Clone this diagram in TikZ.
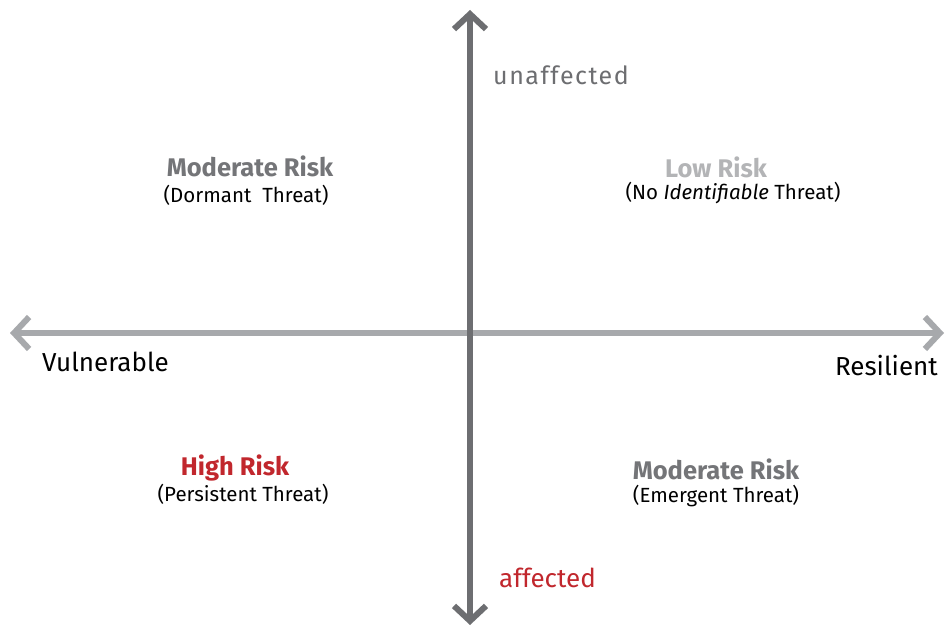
\documentclass[tikz,border=0pt]{standalone}
\usepackage{fontspec}
\setmainfont{Fira Sans}
\usetikzlibrary{arrows.meta}
\definecolor{axdark}{HTML}{6D6E71}
\definecolor{axlight}{HTML}{A7A9AC}
\definecolor{riskred}{HTML}{C1272D}
\definecolor{lowgray}{HTML}{B3B4B6}
\definecolor{modgray}{HTML}{747578}
\tikzset{
  tip/.tip={Straight Barb[length=15pt,width=32pt,line width=6pt]},
  axis/.style={line width=6.5pt, tip-tip},
  risk/.style={font=\fontsize{25.5}{28}\selectfont\bfseries, inner sep=0pt},
  threat/.style={font=\fontsize{20.5}{23}\selectfont, inner sep=0pt, text=black},
  axlabel/.style={font=\fontsize{26}{29}\selectfont, inner sep=0pt, anchor=base west}
}
\begin{document}
\begin{tikzpicture}[x=1pt,y=-1pt]
\useasboundingbox[fill=white] (0,0) rectangle (947,628);
\coordinate (L) at (10,333);
\coordinate (R) at (944,333);
\coordinate (T) at (470,10);
\coordinate (B) at (470,625);
\draw[axis, axlight] (L) -- (R);
\draw[axis, axdark] (B) -- (T);
\node[axlabel, text=axdark, font=\fontsize{25}{28}\selectfont\addfontfeatures{LetterSpace=6}] (unaff) at (493,85) {unaffected};
\node[axlabel, text=riskred] (aff) at (499,587) {affected};
\node[axlabel, text=black] (vul) at (42,371) {Vulnerable};
\node[axlabel, text=black, anchor=base east] (res) at (938,375) {Resilient};
\node[risk, text=modgray] (m1) at (250,166) {Moderate Risk};
\node[threat] (t1) at (246,195) {(Dormant\ \ Threat)};
\node[risk, text=lowgray] (lr) at (716,167) {Low Risk};
\node[threat] (t2) at (733,193) {(No \textit{Identifiable} Threat)};
\node[risk, text=riskred] (hr) at (235,468) {High Risk};
\node[threat] (t3) at (243,494) {(Persistent Threat)};
\node[risk, text=modgray] (m2) at (716,469) {Moderate Risk};
\node[threat] (t4) at (716,496) {(Emergent Threat)};
\end{tikzpicture}
\end{document}
